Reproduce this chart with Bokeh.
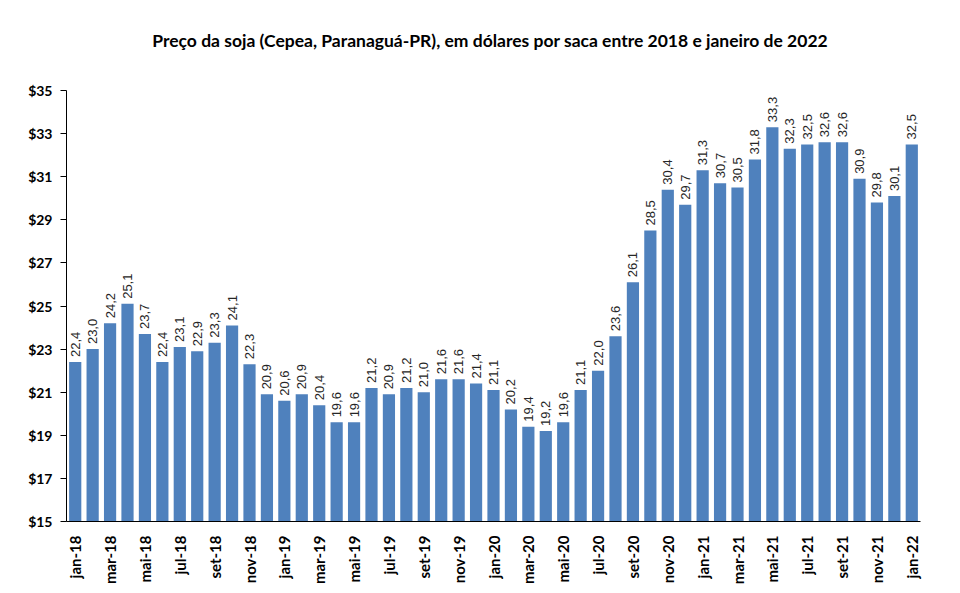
from math import pi

from bokeh.embed import file_html
from bokeh.layouts import column
from bokeh.models import ColumnDataSource, Div, FixedTicker, PrintfTickFormatter, Range1d
from bokeh.plotting import figure
from bokeh.resources import INLINE
from bokeh.core.properties import value

# Monthly soybean price (Cepea, Paranaguá-PR), US$ per 60 kg bag
months = [
    "jan-18", "fev-18", "mar-18", "abr-18", "mai-18", "jun-18", "jul-18", "ago-18", "set-18", "out-18", "nov-18", "dez-18",
    "jan-19", "fev-19", "mar-19", "abr-19", "mai-19", "jun-19", "jul-19", "ago-19", "set-19", "out-19", "nov-19", "dez-19",
    "jan-20", "fev-20", "mar-20", "abr-20", "mai-20", "jun-20", "jul-20", "ago-20", "set-20", "out-20", "nov-20", "dez-20",
    "jan-21", "fev-21", "mar-21", "abr-21", "mai-21", "jun-21", "jul-21", "ago-21", "set-21", "out-21", "nov-21", "dez-21",
    "jan-22",
]
prices = [
    22.4, 23.0, 24.2, 25.1, 23.7, 22.4, 23.1, 22.9, 23.3, 24.1, 22.3, 20.9,
    20.6, 20.9, 20.4, 19.6, 19.6, 21.2, 20.9, 21.2, 21.0, 21.6, 21.6, 21.4,
    21.1, 20.2, 19.4, 19.2, 19.6, 21.1, 22.0, 23.6, 26.1, 28.5, 30.4, 29.7,
    31.3, 30.7, 30.5, 31.8, 33.3, 32.3, 32.5, 32.6, 32.6, 30.9, 29.8, 30.1,
    32.5,
]
y_ticks = [15, 17, 19, 21, 23, 25, 27, 29, 31, 33, 35]
title_text = "Preço da soja (Cepea, Paranaguá-PR), em dólares por saca entre 2018 e janeiro de 2022"

HEAD_H = 80

idx = list(range(len(months)))
source = ColumnDataSource(dict(
    x=idx,
    price=prices,
    label=[f"{v:.1f}".replace(".", ",") for v in prices],
))

heading = Div(
    text=(
        '<div style="width:960px;height:80px;line-height:82px;text-align:center;'
        'font-family:Lato;font-weight:bold;font-size:17.5px;color:black;'
        'white-space:nowrap;padding-left:20px;box-sizing:border-box;">'
        f"{title_text}</div>"
    ),
    width=960, height=HEAD_H, margin=0,
)

p = figure(
    width=960, height=593 - HEAD_H,
    output_backend="svg", toolbar_location=None,
    x_range=Range1d(-0.5, len(months) - 0.5),
    y_range=Range1d(15, 35),
    min_border_left=66, min_border_right=40,
    min_border_top=90 - HEAD_H, min_border_bottom=72,
    margin=0,
)
p.background_fill_color = "white"
p.border_fill_color = "white"
p.outline_line_color = None
p.xgrid.grid_line_color = None
p.ygrid.grid_line_color = None

p.vbar(x="x", top="price", bottom=15, width=0.7, source=source,
       fill_color="#4F81BD", line_color=None)

p.text(x="x", y="price", text="label", source=source,
       angle=pi / 2, y_offset=-5,
       text_align="left", text_baseline="middle",
       text_font=value("Liberation Sans"), text_font_size="13px",
       text_color="#262626")

# y axis: dollar ticks every 2
yax = p.yaxis[0]
yax.ticker = FixedTicker(ticks=y_ticks)
yax.formatter = PrintfTickFormatter(format="$%d")
yax.axis_line_color = "black"
yax.major_tick_line_color = "black"
yax.major_tick_out = 6
yax.major_tick_in = 0
yax.minor_tick_line_color = None
yax.major_label_text_font = "Lato"
yax.major_label_text_font_style = "bold"
yax.major_label_text_font_size = "14px"
yax.major_label_text_color = "black"
yax.major_label_standoff = 8

# x axis: every other month, vertical labels
xax = p.xaxis[0]
shown = idx[::2]
xax.ticker = FixedTicker(ticks=shown)
xax.major_label_overrides = {i: months[i] for i in shown}
xax.major_label_orientation = pi / 2
xax.axis_line_color = "black"
xax.major_tick_line_color = None
xax.minor_tick_line_color = None
xax.major_label_text_font = "Lato"
xax.major_label_text_font_style = "bold"
xax.major_label_text_font_size = "15px"
xax.major_label_text_color = "black"
xax.major_label_standoff = 8

page = column(heading, p, spacing=0, margin=0)

open("out.html", "w").write(file_html(page, INLINE))
